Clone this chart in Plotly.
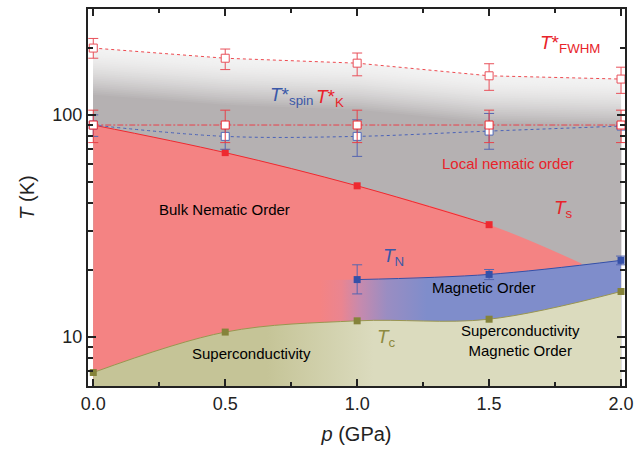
import numpy as np
import plotly.graph_objects as go

# ---------------- data ----------------
p_fwhm = [0.0, 0.5, 1.0, 1.5, 2.0]
T_fwhm = [200, 180, 171, 150, 145]
T_fwhm_err_plus = [21, 18, 19, 20, 19]
T_fwhm_err_minus = [20, 20, 21, 21, 20]

p_K = [0.0, 0.5, 1.0, 1.5, 2.0]
T_K = [90, 90, 90, 90, 90]
T_K_err_plus = [15, 15, 15, 15, 15]
T_K_err_minus = [15, 15, 15, 15, 15]

p_spin = [0.0, 0.5, 1.0, 1.5, 2.0]
T_spin = [90, 80, 80, 84.5, 89]
T_spin_err_plus = [10, 11, 15, 17, 0]
T_spin_err_minus = [10, 10, 15, 14.5, 0]

p_s = [0.0, 0.5, 1.0, 1.5]
T_s = [90, 67.6, 47.9, 32.0]
# bulk-nematic boundary end where it meets T_N
p_s_end = [1.85]
T_s_end = [21.4]

p_N = [1.0, 1.5, 2.0]
T_N = [18.1, 19.1, 22.1]
T_N_err_plus = [3.0, 1.0, 1.0]
T_N_err_minus = [2.5, 1.0, 1.0]

p_c = [0.0, 0.5, 1.0, 1.5, 2.0]
T_c = [6.9, 10.5, 11.8, 12.0, 16.0]

x_ticks = [0.0, 0.5, 1.0, 1.5, 2.0]
x_ticktext = ["0.0", "0.5", "1.0", "1.5", "2.0"]
y_ticks = [10, 100]
y_ticktext = ["10", "100"]

# ---------------- style ----------------
FONT = "Liberation Sans, Arial, sans-serif"
RED = "#ee2a30"
RED_FILL = "#f48383"
BLUE = "#3550a8"
BLUE_FILL = "#7f8dcb"
OLIVE = "#85833a"
OLIVE_DARK = "#c5c497"
OLIVE_LIGHT = "#dbdbbe"
GRAY_LIGHT = (242, 242, 242)
GRAY_DARK = (181, 177, 178)
Y_MIN, Y_MAX = 6, 300

fig = go.Figure()

# ---- gray "local nematic" region with gradient below T*_FWHM ----
N = 26
span = 0.21
for i in range(N + 1):
    t = (i / N) ** 1.6
    c = tuple(int(round(GRAY_LIGHT[k] + (GRAY_DARK[k] - GRAY_LIGHT[k]) * t)) for k in range(3))
    top = [v * 10 ** (-span * i / N) for v in T_fwhm]
    xs = list(p_fwhm) + [p_fwhm[-1], p_fwhm[0]]
    ys = top + [Y_MIN, Y_MIN]
    fig.add_trace(go.Scatter(x=xs, y=ys, mode="lines", fill="toself",
                             fillcolor="rgb(%d,%d,%d)" % c, line=dict(width=0),
                             hoverinfo="skip", showlegend=False))

# ---- bulk nematic (red) region ----
fig.add_trace(go.Scatter(x=[p_s[0], p_s_end[0]], y=[Y_MIN, Y_MIN], mode="lines",
                         line=dict(width=0), hoverinfo="skip", showlegend=False))
fig.add_trace(go.Scatter(x=p_s + p_s_end, y=T_s + T_s_end, mode="lines",
                         line=dict(width=0, shape="spline"), fill="tonexty",
                         fillcolor=RED_FILL, hoverinfo="skip", showlegend=False))

# ---- magnetic order (blue) region, blending from red ----
fig.add_trace(go.Scatter(x=[0.0, p_N[-1]], y=[Y_MIN, Y_MIN], mode="lines",
                         line=dict(width=0), hoverinfo="skip", showlegend=False))
fig.add_trace(go.Scatter(x=[0.0] + p_N, y=[T_N[0]] + T_N, mode="lines",
                         line=dict(width=0, shape="spline"), fill="tonexty",
                         fillgradient=dict(type="horizontal", start=0.85, stop=1.25,
                                           colorscale=[[0, RED_FILL], [0.2, "#ea8590"],
                                                       [0.375, "#c68aae"], [0.625, "#9a8dc2"],
                                                       [1, BLUE_FILL]]),
                         hoverinfo="skip", showlegend=False))

# ---- superconductivity (olive) region ----
fig.add_trace(go.Scatter(x=[p_c[0], p_c[-1]], y=[Y_MIN, Y_MIN], mode="lines",
                         line=dict(width=0), hoverinfo="skip", showlegend=False))
fig.add_trace(go.Scatter(x=p_c, y=T_c, mode="lines",
                         line=dict(width=0, shape="spline"), fill="tonexty",
                         fillgradient=dict(type="horizontal", start=0.65, stop=1.05,
                                           colorscale=[[0, OLIVE_DARK], [1, OLIVE_LIGHT]]),
                         hoverinfo="skip", showlegend=False))

# ---- boundary lines and markers ----
fig.add_trace(go.Scatter(x=p_s, y=T_s, mode="lines+markers",
                         line=dict(color=RED, width=1, shape="spline"),
                         marker=dict(symbol="square", size=7, color=RED),
                         showlegend=False))
fig.add_trace(go.Scatter(x=p_c, y=T_c, mode="lines+markers",
                         line=dict(color="#9a9650", width=1, shape="spline"),
                         marker=dict(symbol="square", size=7, color=OLIVE),
                         showlegend=False))
fig.add_trace(go.Scatter(x=p_N, y=T_N, mode="lines+markers",
                         line=dict(color=BLUE, width=1, shape="spline"),
                         marker=dict(symbol="square", size=7, color=BLUE),
                         error_y=dict(type="data", array=T_N_err_plus, arrayminus=T_N_err_minus,
                                      color="#5565b0", thickness=1, width=5),
                         showlegend=False))

# T*_spin
fig.add_trace(go.Scatter(x=p_spin, y=T_spin, mode="lines+markers",
                         line=dict(color="#4a62b8", width=1, dash="3px,3px", shape="spline"),
                         marker=dict(symbol="square", size=8, color="white",
                                     line=dict(color="#5068b8", width=1)),
                         error_y=dict(type="data", array=T_spin_err_plus, arrayminus=T_spin_err_minus,
                                      color="#5565b0", thickness=1, width=5),
                         showlegend=False))
# T*_K
fig.add_trace(go.Scatter(x=p_K, y=T_K, mode="lines+markers",
                         line=dict(color="#e8404a", width=1, dash="6px,2px,2px,2px"),
                         marker=dict(symbol="square", size=8, color="white",
                                     line=dict(color=RED, width=1)),
                         error_y=dict(type="data", array=T_K_err_plus, arrayminus=T_K_err_minus,
                                      color="#e84048", thickness=1, width=5),
                         showlegend=False))
# T*_FWHM
fig.add_trace(go.Scatter(x=p_fwhm, y=T_fwhm, mode="lines+markers",
                         line=dict(color="#ee4a50", width=1, dash="3px,3px"),
                         marker=dict(symbol="square", size=8, color="white",
                                     line=dict(color="#e8505a", width=1)),
                         error_y=dict(type="data", array=T_fwhm_err_plus, arrayminus=T_fwhm_err_minus,
                                      color="#e8505a", thickness=1, width=5),
                         showlegend=False))

# ---------------- annotations ----------------
def ann(x, T, text, color="black", size=15, xanchor="center", align="center"):
    fig.add_annotation(x=x, y=np.log10(T), xref="x", yref="y", text=text, showarrow=False,
                       xanchor=xanchor, yanchor="middle", align=align,
                       font=dict(family=FONT, size=size, color=color))

ann(0.498, 37.4, "Bulk Nematic Order")
ann(1.57, 60.1, "Local nematic order", color="#e8232a")
ann(1.48, 16.7, "Magnetic Order")
ann(0.60, 8.45, "Superconductivity")
ann(1.618, 9.66, "Superconductivity<br>Magnetic Order")

ann(1.686, 208, "<i>T</i>*<sub>FWHM</sub>", color="#e8232a", size=19, xanchor="left")
ann(0.663, 121.7, "<i>T</i>*<sub>spin</sub>", color="#3a58a8", size=19, xanchor="left")
ann(0.838, 118.6, "<i>T</i>*<sub>K</sub>", color="#e8232a", size=19, xanchor="left")
ann(1.738, 37.7, "<i>T</i><sub>s</sub>", color="#e8232a", size=19, xanchor="left")
ann(1.090, 22.8, "<i>T</i><sub>N</sub>", color="#3a58a8", size=19, xanchor="left")
ann(1.067, 9.87, "<i>T</i><sub>c</sub>", color="#8d8a3f", size=19, xanchor="left")

# ---------------- layout ----------------
axis_common = dict(showline=True, linecolor="#222", linewidth=2, mirror="ticks",
                   ticks="inside", tickwidth=1.5, tickcolor="#222", showgrid=False,
                   zeroline=False, tickfont=dict(family=FONT, size=18, color="#222"))

fig.update_layout(
    width=641, height=453,
    margin=dict(l=88, r=10, t=7, b=67),
    paper_bgcolor="white", plot_bgcolor="white",
    showlegend=False,
    xaxis=dict(range=[-0.02, 2.015], tickmode="array", tickvals=x_ticks, ticktext=x_ticktext,
               ticklen=7,
               minor=dict(tickvals=[0.25, 0.75, 1.25, 1.75], ticks="inside", ticklen=4,
                          tickwidth=1.5, tickcolor="#222"),
               title=dict(text="<i>p</i> (GPa)", font=dict(family=FONT, size=20, color="#222"),
                          standoff=14),
               **axis_common),
    yaxis=dict(type="log", range=[np.log10(Y_MIN), np.log10(Y_MAX)], tickmode="array",
               tickvals=y_ticks, ticktext=y_ticktext, ticklen=8,
               minor=dict(tickvals=[7, 8, 9, 20, 30, 40, 50, 60, 70, 80, 90, 200],
                          ticks="inside", ticklen=5, tickwidth=1.5, tickcolor="#222"),
               title=dict(text="<i>T</i> (K)", font=dict(family=FONT, size=20, color="#222"),
                          standoff=12),
               **axis_common),
)

fig.write_html("out.html",
               config={"displayModeBar": False},
               post_script="document.body.style.margin='0';document.body.style.padding='0';"
                           "document.body.style.overflow='hidden';")
